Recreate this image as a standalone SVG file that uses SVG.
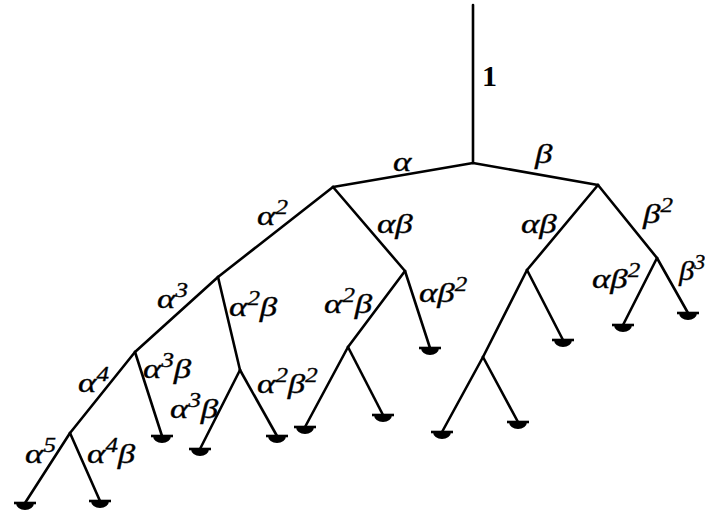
<svg xmlns="http://www.w3.org/2000/svg" xmlns:xlink="http://www.w3.org/1999/xlink" width="705" height="513" viewBox="0 0 705 513">
<style>
.e{stroke:#000;stroke-width:2.6;fill:none;stroke-linecap:round;stroke-linejoin:round}
.l{font-family:"Liberation Serif","Times New Roman",serif;font-style:italic;font-size:28px;fill:#000;stroke:#000;stroke-width:0.35}
.s{font-size:20px}
.n{font-family:"Liberation Serif","Times New Roman",serif;font-size:30px;font-weight:bold;fill:#000}
</style>
<defs>
<g id="leaf">
<path d="M-11,0 H11" stroke="#000" stroke-width="2.6"/>
<path d="M-9,0 A9,7 0 0 0 9,0 Z" fill="#000"/>
</g>
</defs>
<rect width="705" height="513" fill="#fff"/>
<g id="connectors">
<path class="e" d="M473,5 V163"/>
<path class="e" d="M473,163 L333,187"/>
<path class="e" d="M473,163 L598,185"/>
<path class="e" d="M333,187 L218,277"/>
<path class="e" d="M333,187 L405,271"/>
<path class="e" d="M218,277 L135,352"/>
<path class="e" d="M218,277 L240,370"/>
<path class="e" d="M135,352 L70,433"/>
<path class="e" d="M135,352 L162,436"/>
<path class="e" d="M70,433 L25,503"/>
<path class="e" d="M70,433 L100,501"/>
<path class="e" d="M240,370 L200,449"/>
<path class="e" d="M240,370 L277,436"/>
<path class="e" d="M405,271 L348,347"/>
<path class="e" d="M405,271 L430,348"/>
<path class="e" d="M348,347 L305,427"/>
<path class="e" d="M348,347 L383,415"/>
<path class="e" d="M598,185 L527,270"/>
<path class="e" d="M598,185 L657,258"/>
<path class="e" d="M527,270 L483,357"/>
<path class="e" d="M527,270 L563,340"/>
<path class="e" d="M483,357 L442,432"/>
<path class="e" d="M483,357 L518,422"/>
<path class="e" d="M657,258 L623,325"/>
<path class="e" d="M657,258 L688,313"/>
</g>
<g id="labels">
<text class="n" x="482" y="86">1</text>
<text class="l" transform="translate(393,171) scale(1.25,1)">α</text>
<text class="l" transform="translate(535,163) scale(1.25,1)">β</text>
<text class="l" transform="translate(257,225) scale(1.25,1)">α<tspan class="s" dy="-11">2</tspan></text>
<text class="l" transform="translate(377,233) scale(1.25,1)">αβ</text>
<text class="l" transform="translate(521,233) scale(1.25,1)">αβ</text>
<text class="l" transform="translate(643,223) scale(1.25,1)">β<tspan class="s" dy="-11">2</tspan></text>
<text class="l" transform="translate(157,308) scale(1.25,1)">α<tspan class="s" dy="-11">3</tspan></text>
<text class="l" transform="translate(229,316) scale(1.25,1)">α<tspan class="s" dy="-11">2</tspan><tspan dy="11">β</tspan></text>
<text class="l" transform="translate(324,313) scale(1.25,1)">α<tspan class="s" dy="-11">2</tspan><tspan dy="11">β</tspan></text>
<text class="l" transform="translate(419,302) scale(1.25,1)">αβ<tspan class="s" dy="-11">2</tspan></text>
<text class="l" transform="translate(592,288) scale(1.25,1)">αβ<tspan class="s" dy="-11">2</tspan></text>
<text class="l" transform="translate(679,280) scale(1.1,1)">β<tspan class="s" dy="-11">3</tspan></text>
<text class="l" transform="translate(78,392) scale(1.25,1)">α<tspan class="s" dy="-11">4</tspan></text>
<text class="l" transform="translate(143,378) scale(1.25,1)">α<tspan class="s" dy="-11">3</tspan><tspan dy="11">β</tspan></text>
<text class="l" transform="translate(170,418) scale(1.25,1)">α<tspan class="s" dy="-11">3</tspan><tspan dy="11">β</tspan></text>
<text class="l" transform="translate(257,393) scale(1.25,1)">α<tspan class="s" dy="-11">2</tspan><tspan dy="11">β</tspan><tspan class="s" dy="-11">2</tspan></text>
<text class="l" transform="translate(25,463) scale(1.25,1)">α<tspan class="s" dy="-11">5</tspan></text>
<text class="l" transform="translate(87,463) scale(1.25,1)">α<tspan class="s" dy="-11">4</tspan><tspan dy="11">β</tspan></text>
</g>
<g id="nodes">
<g id="leaf1"><use xlink:href="#leaf" x="25" y="503"/></g>
<g id="leaf2"><use xlink:href="#leaf" x="100" y="501"/></g>
<g id="leaf3"><use xlink:href="#leaf" x="162" y="436"/></g>
<g id="leaf4"><use xlink:href="#leaf" x="200" y="449"/></g>
<g id="leaf5"><use xlink:href="#leaf" x="277" y="436"/></g>
<g id="leaf6"><use xlink:href="#leaf" x="305" y="427"/></g>
<g id="leaf7"><use xlink:href="#leaf" x="383" y="415"/></g>
<g id="leaf8"><use xlink:href="#leaf" x="430" y="348"/></g>
<g id="leaf9"><use xlink:href="#leaf" x="442" y="432"/></g>
<g id="leaf10"><use xlink:href="#leaf" x="518" y="422"/></g>
<g id="leaf11"><use xlink:href="#leaf" x="563" y="340"/></g>
<g id="leaf12"><use xlink:href="#leaf" x="623" y="325"/></g>
<g id="leaf13"><use xlink:href="#leaf" x="688" y="313"/></g>
</g>
</svg>
